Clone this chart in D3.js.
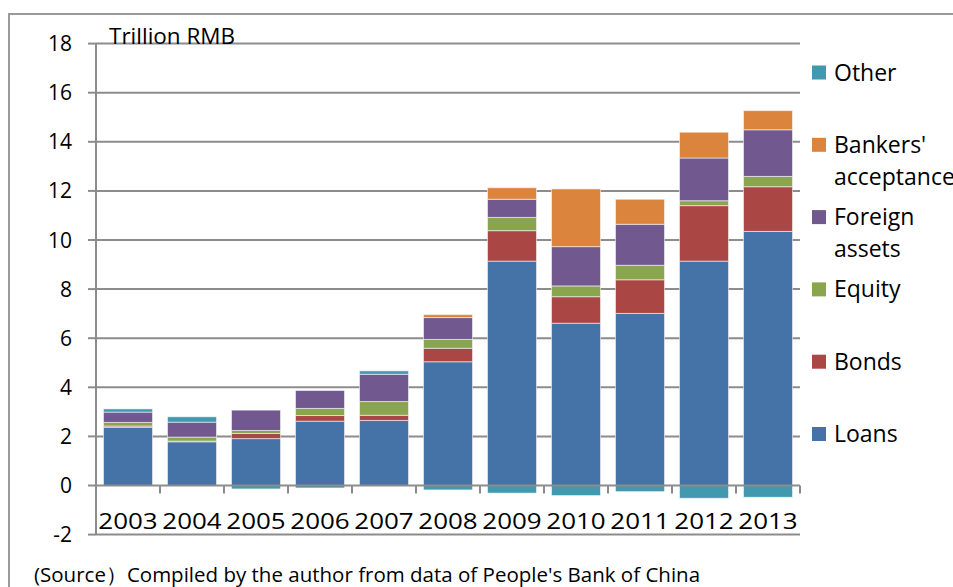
<!DOCTYPE html>
<html>
<head>
<meta charset="utf-8">
<script src="https://cdn.jsdelivr.net/npm/d3@7/dist/d3.min.js"></script>
<style>
  html, body { margin: 0; padding: 0; background: #fff; }
  svg { display: block; }
  text { font-family: "Open Sans", "Noto Sans", sans-serif; fill: #000; }
</style>
</head>
<body>
<svg id="chart" width="953" height="587"></svg>
<script>
// Sources of PBoC-related financing flows, trillion RMB
const years = ["2003", "2004", "2005", "2006", "2007", "2008", "2009", "2010", "2011", "2012", "2013"];
const loans    = [2.37, 1.78, 1.91, 2.62, 2.65, 5.04, 9.14, 6.61, 7.01, 9.14, 10.35];
const bonds    = [0.05, 0.03, 0.21, 0.23, 0.21, 0.55, 1.24, 1.08, 1.37, 2.26, 1.82];
const equity   = [0.15, 0.16, 0.12, 0.29, 0.56, 0.36, 0.54, 0.44, 0.59, 0.20, 0.42];
const foreign  = [0.42, 0.61, 0.83, 0.73, 1.11, 0.89, 0.74, 1.60, 1.67, 1.74, 1.90];
const bankers  = [0.00, 0.00, 0.00, 0.00, 0.00, 0.12, 0.47, 2.35, 1.02, 1.05, 0.78];
const other    = [0.13, 0.22, -0.14, -0.10, 0.14, -0.18, -0.31, -0.41, -0.25, -0.52, -0.48];
const seriesNames = ["Loans", "Bonds", "Equity", "Foreign assets", "Bankers' acceptance", "Other"];
const seriesValues = [loans, bonds, equity, foreign, bankers, other];
const yTicks = [-2, 0, 2, 4, 6, 8, 10, 12, 14, 16, 18];
const unitLabel = "Trillion RMB";
const sourceNote = "(Source）Compiled by the author from data of People's Bank of China";

const colors = ["#4572A7", "#AA4643", "#89A54E", "#71588F", "#DB843D", "#4198AF"];
const gridColor = "#8c8c8c";

const svg = d3.select("#chart");

// table for the stack layout
const rows = years.map((yr, i) => {
  const r = { year: yr };
  seriesNames.forEach((n, k) => { r[n] = seriesValues[k][i]; });
  return r;
});

const x = d3.scaleBand().domain(years).range([96, 800]).paddingInner(0.234).paddingOuter(0.117);
const y = d3.scaleLinear().domain([-2, 18]).range([534.6, 43.6]);

// outer frame
svg.append("path")
  .attr("d", "M9,587 L9,14 L953,14")
  .attr("fill", "none").attr("stroke", "#9a9a9a").attr("stroke-width", 2);

// horizontal gridlines
svg.append("g").selectAll("line").data(yTicks.filter(t => t !== 0)).join("line")
  .attr("x1", 96).attr("x2", 800)
  .attr("y1", d => y(d)).attr("y2", d => y(d))
  .attr("stroke", gridColor).attr("stroke-width", 2);

// stacked bars, negatives stacked below zero
const stack = d3.stack().keys(seriesNames).offset(d3.stackOffsetDiverging);
const layers = stack(rows);

svg.append("g").selectAll("g").data(layers).join("g")
  .attr("fill", (d, i) => colors[i])
  .selectAll("rect").data(d => d.filter(p => p[1] !== p[0])).join("rect")
  .attr("x", d => x(d.data.year))
  .attr("width", x.bandwidth())
  .attr("y", d => y(Math.max(d[0], d[1])))
  .attr("height", d => Math.abs(y(d[0]) - y(d[1])))
  .attr("stroke", "rgba(255,255,255,0.55)").attr("stroke-width", 1);

// category axis at zero
const xAxis = svg.append("g").attr("transform", `translate(0,${y(0)})`);
xAxis.append("line").attr("x1", 96).attr("x2", 800).attr("stroke", gridColor).attr("stroke-width", 2);
const bounds = d3.range(years.length + 1).map(i => 96 + i * x.step());
xAxis.selectAll("line.tick").data(bounds).join("line").attr("class", "tick")
  .attr("x1", d => d).attr("x2", d => d).attr("y1", 0).attr("y2", 8)
  .attr("stroke", gridColor).attr("stroke-width", 2);

// category labels
svg.append("g").selectAll("text").data(years).join("text")
  .attr("transform", d => `translate(${x(d) + x.bandwidth() / 2},529) scale(1.18,1)`)
  .attr("text-anchor", "middle")
  .attr("font-size", 22)
  .text(d => d);

// value axis
svg.append("line").attr("x1", 96).attr("x2", 96).attr("y1", y(18)).attr("y2", y(-2))
  .attr("stroke", gridColor).attr("stroke-width", 2);
svg.append("g").selectAll("line").data(yTicks).join("line")
  .attr("x1", 88).attr("x2", 96).attr("y1", d => y(d)).attr("y2", d => y(d))
  .attr("stroke", gridColor).attr("stroke-width", 2);
svg.append("g").selectAll("text").data(yTicks).join("text")
  .attr("x", 72).attr("y", d => y(d)).attr("dy", "0.36em")
  .attr("text-anchor", "end")
  .attr("font-size", 21)
  .text(d => d);

// unit label
svg.append("text").attr("x", 109).attr("y", 44).attr("font-size", 22.5).text(unitLabel);

// legend, listed from the top of the stack downwards
const legendItems = seriesNames.map((n, i) => ({ name: n, color: colors[i] })).reverse();
const legendLines = { "Bankers' acceptance": ["Bankers'", "acceptance"], "Foreign assets": ["Foreign", "assets"] };
const lg = svg.append("g").selectAll("g").data(legendItems).join("g")
  .attr("transform", (d, i) => `translate(812,${72.5 + i * 72.3})`);
lg.append("rect").attr("x", 0).attr("y", -7).attr("width", 14).attr("height", 14).attr("fill", d => d.color);
lg.each(function (d) {
  const lines = legendLines[d.name] || [d.name];
  const t = d3.select(this).append("text").attr("x", 22).attr("y", 0).attr("font-size", 23).attr("dy", "0.35em");
  lines.forEach((ln, k) => t.append("tspan").attr("x", 22).attr("dy", k === 0 ? "0.35em" : 32).text(ln));
});

// source note
svg.append("text").attr("x", 34).attr("y", 582).attr("font-size", 20.5).text(sourceNote);
</script>
</body>
</html>
